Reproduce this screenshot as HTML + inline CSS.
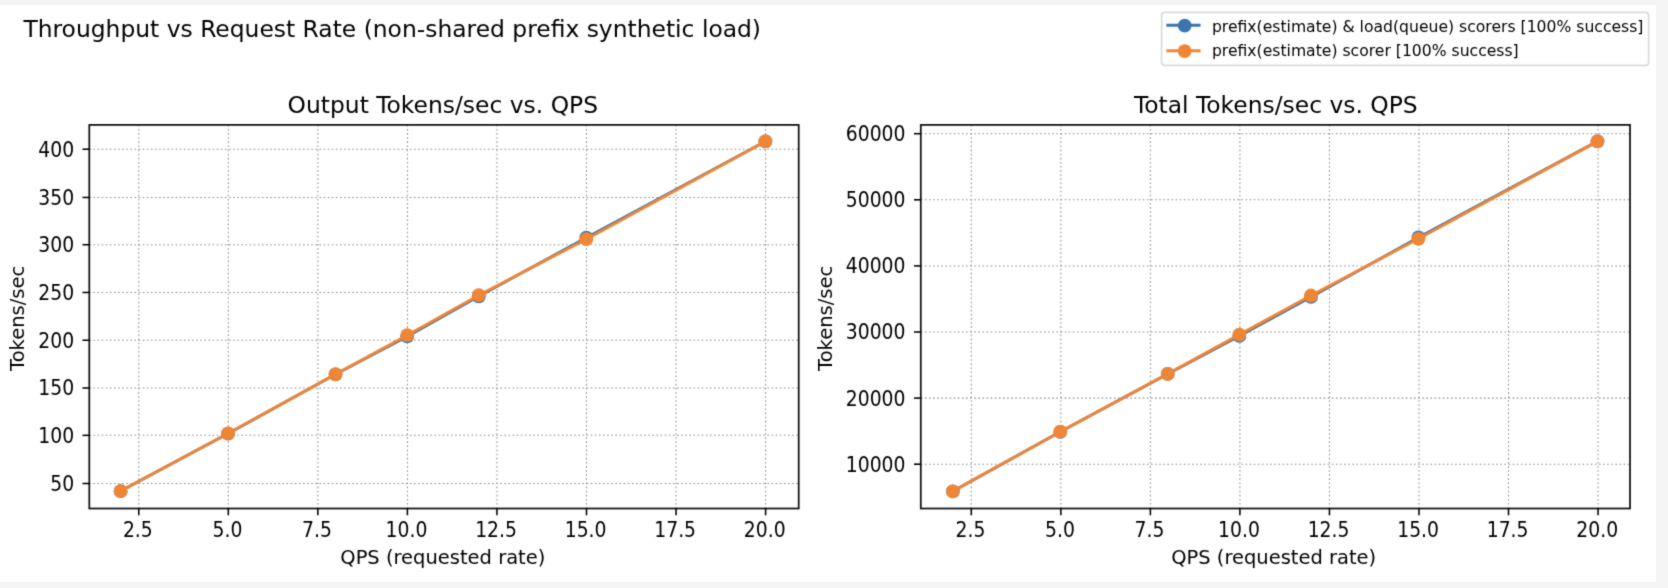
<!DOCTYPE html>
<html lang="en"><head><meta charset="utf-8"><title>Throughput vs Request Rate</title>
<style>
html,body{margin:0;padding:0;background:#f5f5f5;}
body{width:1668px;height:588px;overflow:hidden;position:relative;}
svg{position:absolute;left:0;top:0;display:block;}
text{font-family:"DejaVu Sans","Liberation Sans",sans-serif;fill:#000;}
.st{font-size:23.4px;}
.ti{font-size:23.4px;}
.lb{font-size:19.5px;}
.tl text{font-size:18.8px;}
.lg{font-size:15.63px;}
.grid line{stroke:#8e8e8e;stroke-width:1.05;stroke-dasharray:1.6 2.51;fill:none;}
.ln{fill:none;stroke-width:2.9;stroke-linejoin:round;stroke-linecap:square;}
.ll{fill:none;stroke-width:2.9;stroke-linecap:square;}
.sp{fill:none;stroke:#111;stroke-width:1.75;stroke-linejoin:miter;}
.tk line{stroke:#000;stroke-width:1.55;}
.lgb{fill:#fff;stroke:#dadada;stroke-width:1.7;}
</style></head>
<body>
<svg width="1668" height="588" viewBox="0 0 1668 588">
<rect x="0" y="0" width="1668" height="588" fill="#f5f5f5"/>
<rect x="0" y="5" width="1656" height="577" fill="#ffffff"/>
<defs><filter id="soft" x="0" y="0" width="100%" height="100%" filterUnits="userSpaceOnUse" color-interpolation-filters="sRGB"><feConvolveMatrix order="3" kernelMatrix="0.02 0.10 0.02 0.10 0.52 0.10 0.02 0.10 0.02" edgeMode="duplicate" preserveAlpha="false"/></filter></defs>
<g filter="url(#soft)">
<text class="st" x="23.4" y="36.5">Throughput vs Request Rate (non-shared prefix synthetic load)</text>
<g class="grid"><line x1="138.75" y1="124.9" x2="138.75" y2="508.5"/><line x1="228.30" y1="124.9" x2="228.30" y2="508.5"/><line x1="317.85" y1="124.9" x2="317.85" y2="508.5"/><line x1="407.40" y1="124.9" x2="407.40" y2="508.5"/><line x1="496.95" y1="124.9" x2="496.95" y2="508.5"/><line x1="586.50" y1="124.9" x2="586.50" y2="508.5"/><line x1="676.05" y1="124.9" x2="676.05" y2="508.5"/><line x1="765.60" y1="124.9" x2="765.60" y2="508.5"/><line x1="89.3" y1="483.50" x2="798.7" y2="483.50"/><line x1="89.3" y1="435.34" x2="798.7" y2="435.34"/><line x1="89.3" y1="387.99" x2="798.7" y2="387.99"/><line x1="89.3" y1="340.23" x2="798.7" y2="340.23"/><line x1="89.3" y1="292.47" x2="798.7" y2="292.47"/><line x1="89.3" y1="244.71" x2="798.7" y2="244.71"/><line x1="89.3" y1="197.46" x2="798.7" y2="197.46"/><line x1="89.3" y1="149.20" x2="798.7" y2="149.20"/></g>
<polyline class="ln" stroke="#3b75af" points="120.64,491.14 228.10,433.55 335.56,374.33 407.20,336.41 478.84,296.29 586.30,237.65 765.40,141.37"/>
<g fill="#3b75af"><circle cx="120.64" cy="491.14" r="6.9"/><circle cx="228.10" cy="433.55" r="6.9"/><circle cx="335.56" cy="374.33" r="6.9"/><circle cx="407.20" cy="336.41" r="6.9"/><circle cx="478.84" cy="296.29" r="6.9"/><circle cx="586.30" cy="237.65" r="6.9"/><circle cx="765.40" cy="141.37" r="6.9"/></g>
<polyline class="ln" stroke="#ef8636" points="120.64,491.14 228.10,433.45 335.56,374.23 407.20,335.17 478.84,295.24 586.30,239.17 765.40,141.37"/>
<g fill="#ef8636"><circle cx="120.64" cy="491.14" r="6.9"/><circle cx="228.10" cy="433.45" r="6.9"/><circle cx="335.56" cy="374.23" r="6.9"/><circle cx="407.20" cy="335.17" r="6.9"/><circle cx="478.84" cy="295.24" r="6.9"/><circle cx="586.30" cy="239.17" r="6.9"/><circle cx="765.40" cy="141.37" r="6.9"/></g>
<rect class="sp" x="89.3" y="124.9" width="709.40" height="383.60"/>
<g class="tk"><line x1="138.75" y1="508.5" x2="138.75" y2="515.30"/><line x1="228.30" y1="508.5" x2="228.30" y2="515.30"/><line x1="317.85" y1="508.5" x2="317.85" y2="515.30"/><line x1="407.40" y1="508.5" x2="407.40" y2="515.30"/><line x1="496.95" y1="508.5" x2="496.95" y2="515.30"/><line x1="586.50" y1="508.5" x2="586.50" y2="515.30"/><line x1="676.05" y1="508.5" x2="676.05" y2="515.30"/><line x1="765.60" y1="508.5" x2="765.60" y2="515.30"/><line x1="82.50" y1="483.50" x2="89.3" y2="483.50"/><line x1="82.50" y1="435.34" x2="89.3" y2="435.34"/><line x1="82.50" y1="387.99" x2="89.3" y2="387.99"/><line x1="82.50" y1="340.23" x2="89.3" y2="340.23"/><line x1="82.50" y1="292.47" x2="89.3" y2="292.47"/><line x1="82.50" y1="244.71" x2="89.3" y2="244.71"/><line x1="82.50" y1="197.46" x2="89.3" y2="197.46"/><line x1="82.50" y1="149.20" x2="89.3" y2="149.20"/></g>
<g class="tl"><text transform="translate(137.85,537.10) scale(1,1.1)" text-anchor="middle">2.5</text><text transform="translate(227.40,537.10) scale(1,1.1)" text-anchor="middle">5.0</text><text transform="translate(316.95,537.10) scale(1,1.1)" text-anchor="middle">7.5</text><text transform="translate(406.50,537.10) scale(1,1.1)" text-anchor="middle">10.0</text><text transform="translate(496.05,537.10) scale(1,1.1)" text-anchor="middle">12.5</text><text transform="translate(585.60,537.10) scale(1,1.1)" text-anchor="middle">15.0</text><text transform="translate(675.15,537.10) scale(1,1.1)" text-anchor="middle">17.5</text><text transform="translate(764.70,537.10) scale(1,1.1)" text-anchor="middle">20.0</text><text transform="translate(74.10,490.90) scale(1,1.1)" text-anchor="end">50</text><text transform="translate(74.10,442.74) scale(1,1.1)" text-anchor="end">100</text><text transform="translate(74.10,395.39) scale(1,1.1)" text-anchor="end">150</text><text transform="translate(74.10,347.63) scale(1,1.1)" text-anchor="end">200</text><text transform="translate(74.10,299.87) scale(1,1.1)" text-anchor="end">250</text><text transform="translate(74.10,252.11) scale(1,1.1)" text-anchor="end">300</text><text transform="translate(74.10,204.86) scale(1,1.1)" text-anchor="end">350</text><text transform="translate(74.10,156.60) scale(1,1.1)" text-anchor="end">400</text></g>
<text class="ti" x="442.80" y="113.0" text-anchor="middle">Output Tokens/sec vs. QPS</text>
<text class="lb" transform="translate(442.80,563.6) scale(1,1.04)" text-anchor="middle">QPS (requested rate)</text>
<text class="lb" transform="translate(23.7,318.40) rotate(-90) scale(1,1.04)" text-anchor="middle">Tokens/sec</text>
<g class="grid"><line x1="971.30" y1="124.9" x2="971.30" y2="508.5"/><line x1="1060.84" y1="124.9" x2="1060.84" y2="508.5"/><line x1="1150.38" y1="124.9" x2="1150.38" y2="508.5"/><line x1="1239.91" y1="124.9" x2="1239.91" y2="508.5"/><line x1="1329.45" y1="124.9" x2="1329.45" y2="508.5"/><line x1="1418.99" y1="124.9" x2="1418.99" y2="508.5"/><line x1="1508.52" y1="124.9" x2="1508.52" y2="508.5"/><line x1="1598.06" y1="124.9" x2="1598.06" y2="508.5"/><line x1="920.8" y1="464.20" x2="1630.0" y2="464.20"/><line x1="920.8" y1="398.10" x2="1630.0" y2="398.10"/><line x1="920.8" y1="332.00" x2="1630.0" y2="332.00"/><line x1="920.8" y1="265.90" x2="1630.0" y2="265.90"/><line x1="920.8" y1="199.80" x2="1630.0" y2="199.80"/><line x1="920.8" y1="133.70" x2="1630.0" y2="133.70"/></g>
<polyline class="ln" stroke="#3b75af" points="952.84,491.30 1060.29,431.81 1167.73,373.97 1239.36,335.97 1310.99,296.97 1418.44,237.48 1597.51,141.30"/>
<g fill="#3b75af"><circle cx="952.84" cy="491.30" r="6.9"/><circle cx="1060.29" cy="431.81" r="6.9"/><circle cx="1167.73" cy="373.97" r="6.9"/><circle cx="1239.36" cy="335.97" r="6.9"/><circle cx="1310.99" cy="296.97" r="6.9"/><circle cx="1418.44" cy="237.48" r="6.9"/><circle cx="1597.51" cy="141.30" r="6.9"/></g>
<polyline class="ln" stroke="#ef8636" points="952.84,491.30 1060.29,431.70 1167.73,373.80 1239.36,334.64 1310.99,295.51 1418.44,238.80 1597.51,141.30"/>
<g fill="#ef8636"><circle cx="952.84" cy="491.30" r="6.9"/><circle cx="1060.29" cy="431.70" r="6.9"/><circle cx="1167.73" cy="373.80" r="6.9"/><circle cx="1239.36" cy="334.64" r="6.9"/><circle cx="1310.99" cy="295.51" r="6.9"/><circle cx="1418.44" cy="238.80" r="6.9"/><circle cx="1597.51" cy="141.30" r="6.9"/></g>
<rect class="sp" x="920.8" y="124.9" width="709.20" height="383.60"/>
<g class="tk"><line x1="971.30" y1="508.5" x2="971.30" y2="515.30"/><line x1="1060.84" y1="508.5" x2="1060.84" y2="515.30"/><line x1="1150.38" y1="508.5" x2="1150.38" y2="515.30"/><line x1="1239.91" y1="508.5" x2="1239.91" y2="515.30"/><line x1="1329.45" y1="508.5" x2="1329.45" y2="515.30"/><line x1="1418.99" y1="508.5" x2="1418.99" y2="515.30"/><line x1="1508.52" y1="508.5" x2="1508.52" y2="515.30"/><line x1="1598.06" y1="508.5" x2="1598.06" y2="515.30"/><line x1="914.00" y1="464.20" x2="920.8" y2="464.20"/><line x1="914.00" y1="398.10" x2="920.8" y2="398.10"/><line x1="914.00" y1="332.00" x2="920.8" y2="332.00"/><line x1="914.00" y1="265.90" x2="920.8" y2="265.90"/><line x1="914.00" y1="199.80" x2="920.8" y2="199.80"/><line x1="914.00" y1="133.70" x2="920.8" y2="133.70"/></g>
<g class="tl"><text transform="translate(970.40,537.10) scale(1,1.1)" text-anchor="middle">2.5</text><text transform="translate(1059.94,537.10) scale(1,1.1)" text-anchor="middle">5.0</text><text transform="translate(1149.47,537.10) scale(1,1.1)" text-anchor="middle">7.5</text><text transform="translate(1239.01,537.10) scale(1,1.1)" text-anchor="middle">10.0</text><text transform="translate(1328.55,537.10) scale(1,1.1)" text-anchor="middle">12.5</text><text transform="translate(1418.09,537.10) scale(1,1.1)" text-anchor="middle">15.0</text><text transform="translate(1507.62,537.10) scale(1,1.1)" text-anchor="middle">17.5</text><text transform="translate(1597.16,537.10) scale(1,1.1)" text-anchor="middle">20.0</text><text transform="translate(905.50,471.60) scale(1,1.1)" text-anchor="end">10000</text><text transform="translate(905.50,405.50) scale(1,1.1)" text-anchor="end">20000</text><text transform="translate(905.50,339.40) scale(1,1.1)" text-anchor="end">30000</text><text transform="translate(905.50,273.30) scale(1,1.1)" text-anchor="end">40000</text><text transform="translate(905.50,207.20) scale(1,1.1)" text-anchor="end">50000</text><text transform="translate(905.50,141.10) scale(1,1.1)" text-anchor="end">60000</text></g>
<text class="ti" x="1275.80" y="113.0" text-anchor="middle">Total Tokens/sec vs. QPS</text>
<text class="lb" transform="translate(1273.70,563.6) scale(1,1.04)" text-anchor="middle">QPS (requested rate)</text>
<text class="lb" transform="translate(831.7,318.40) rotate(-90) scale(1,1.04)" text-anchor="middle">Tokens/sec</text>
<rect class="lgb" x="1161.6" y="12.3" width="487.00" height="53.10" rx="3.1" ry="3.1"/>
<line class="ll" stroke="#3b75af" x1="1167.85" y1="25.3" x2="1199.15" y2="25.3"/><circle fill="#3b75af" cx="1184.7" cy="25.6" r="6.9"/>
<line class="ll" stroke="#ef8636" x1="1167.85" y1="50.75" x2="1199.15" y2="50.75"/><circle fill="#ef8636" cx="1184.7" cy="51.05" r="6.9"/>
<text class="lg" transform="translate(1211.9,31.65) scale(1,1.06)">prefix(estimate) &amp; load(queue) scorers [100% success]</text>
<text class="lg" transform="translate(1211.9,55.65) scale(1,1.06)">prefix(estimate) scorer [100% success]</text>
</g>
</svg>
</body></html>
